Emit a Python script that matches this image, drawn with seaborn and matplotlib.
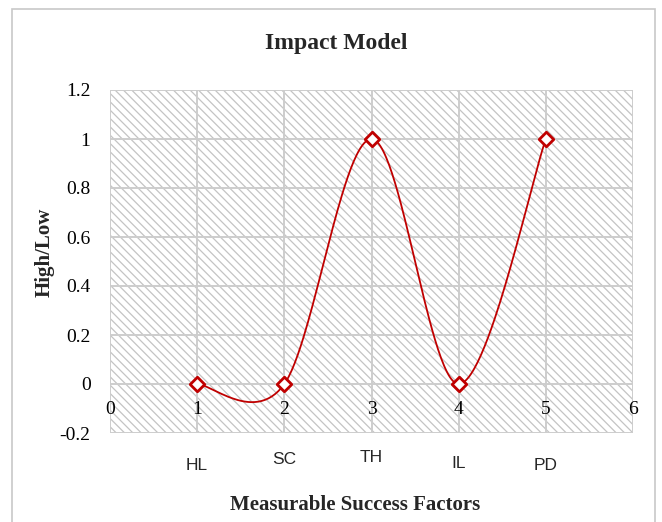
import numpy as np
import pandas as pd
import matplotlib
matplotlib.use("Agg")
import matplotlib.pyplot as plt
from matplotlib.patches import Rectangle
import seaborn as sns

# ---- data ----
x_vals = [1, 2, 3, 4, 5]
y_vals = [0, 0, 1, 0, 1]
categories = ["HL", "SC", "TH", "IL", "PD"]
x_ticks = [0, 1, 2, 3, 4, 5, 6]
y_ticks = [-0.2, 0, 0.2, 0.4, 0.6, 0.8, 1, 1.2]
y_tick_labels = ["-0.2", "0", "0.2", "0.4", "0.6", "0.8", "1", "1.2"]

# ---- Excel-style smoothed line (Bezier through points) ----
def excel_smooth(xs, ys, n=60):
    P = np.column_stack([xs, ys]).astype(float)
    ext = np.vstack([P[0], P, P[-1]])
    out = []
    for i in range(len(P) - 1):
        p0, p1, p2, p3 = ext[i], ext[i + 1], ext[i + 2], ext[i + 3]
        c1 = p1 + (p2 - p0) / 6.0
        c2 = p2 - (p3 - p1) / 6.0
        t = np.linspace(0, 1, n)[:, None]
        seg = ((1 - t) ** 3) * p1 + 3 * ((1 - t) ** 2) * t * c1 + 3 * (1 - t) * t ** 2 * c2 + t ** 3 * p2
        out.append(seg if i == 0 else seg[1:])
    return np.vstack(out)

curve = excel_smooth(x_vals, y_vals)
curve_df = pd.DataFrame({"x": curve[:, 0], "y": curve[:, 1]})
pts_df = pd.DataFrame({"x": x_vals, "y": y_vals, "cat": categories})

sns.set_theme(style="white")
plt.rcParams["font.family"] = ["Liberation Serif", "DejaVu Serif"]
plt.rcParams["hatch.linewidth"] = 0.9

fig = plt.figure(figsize=(6.62, 5.22), dpi=100)
ax = fig.add_axes([110 / 662, 1 - 433 / 522, (633 - 110) / 662, (433 - 90) / 522])

# hatched plot area
ax.patch.set_facecolor("white")
bg = Rectangle((0, 0), 1, 1, transform=ax.transAxes, facecolor="white",
               edgecolor="#c4c4c4", hatch="\\\\\\\\", linewidth=0, zorder=0)
ax.add_patch(bg)

ax.set_xlim(0, 6)
ax.set_ylim(-0.2, 1.2)
ax.set_xticks(x_ticks)
ax.set_yticks(y_ticks)
ax.set_yticklabels(y_tick_labels)
ax.grid(True, color="#cdcdcd", linewidth=1.4, zorder=1)
ax.set_axisbelow(True)
for s in ax.spines.values():
    s.set_visible(False)
ax.spines["bottom"].set_position(("data", 0))
ax.tick_params(axis="both", length=0, labelsize=14, colors="black")
ax.tick_params(axis="x", pad=12)
ax.tick_params(axis="y", pad=14)

sns.lineplot(data=curve_df, x="x", y="y", sort=False, estimator=None,
             color="#c00000", linewidth=1.3, ax=ax, zorder=3)
sns.scatterplot(data=pts_df, x="x", y="y", marker="D", s=55, facecolor="white",
                edgecolor="#c00000", linewidth=2.0, ax=ax, zorder=4)
ax.set_xlabel("")
ax.set_ylabel("")

# category labels under the axis (staggered as in the original)
cat_offsets = [-32, -27, -24, -31, -32]
for xv, lab, off in zip(x_vals, categories, cat_offsets):
    ax.annotate(lab, xy=(xv, -0.2), xycoords="data", xytext=(0, off),
                textcoords="offset pixels", ha="center", va="center",
                fontsize=12.5, family=["Liberation Sans Narrow", "Liberation Sans", "DejaVu Sans"])

fig.text(336 / 662, 1 - 43 / 522, "Impact Model", ha="center", va="center",
         fontsize=17, fontweight="bold")
fig.text(45 / 662, 1 - 252 / 522, "High/Low", ha="center", va="center",
         rotation=90, fontsize=15, fontweight="bold")
fig.text(355 / 662, 1 - 505 / 522, "Measurable Success Factors", ha="center", va="center",
         fontsize=15, fontweight="bold")

# outer chart border
fig.patches.append(Rectangle((12 / 662, -0.05), (655 - 12) / 662, 1 - 9 / 522 + 0.05,
                             transform=fig.transFigure, fill=False,
                             edgecolor="#c8c8c8", linewidth=1.2))

fig.savefig("out.png", dpi=100)
